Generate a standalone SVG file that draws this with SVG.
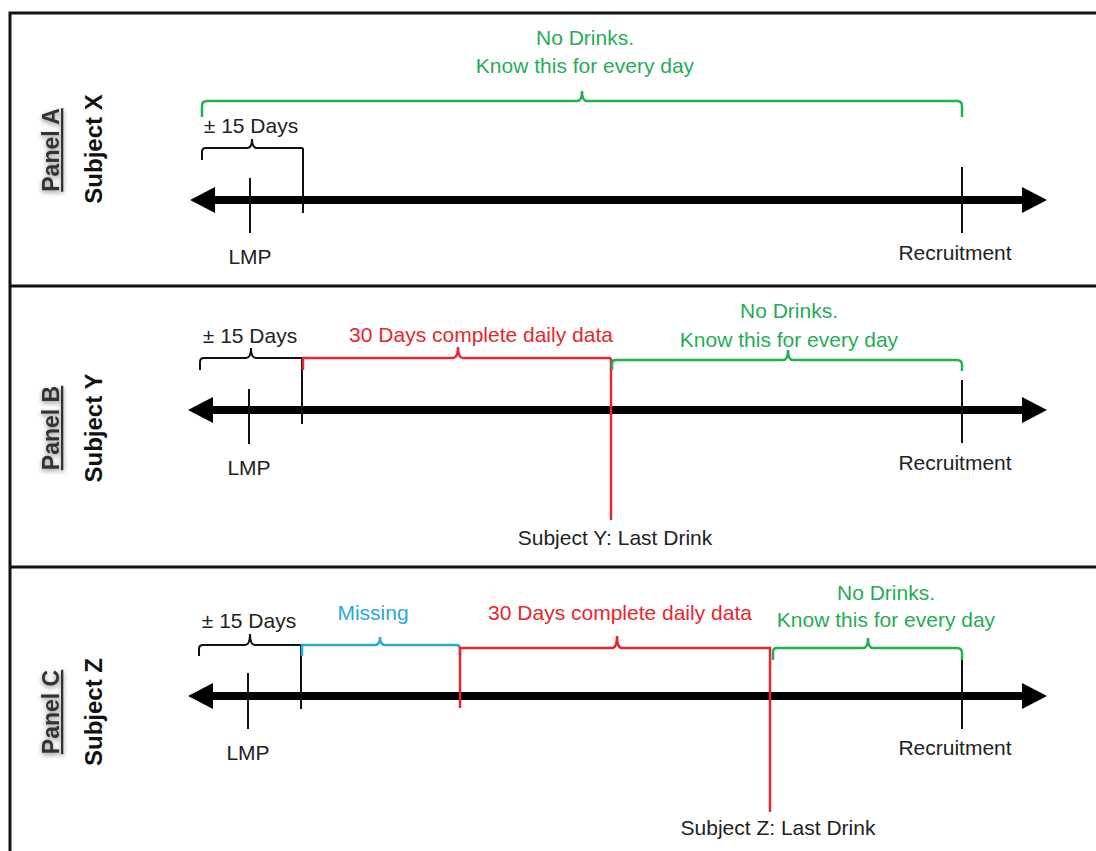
<svg xmlns="http://www.w3.org/2000/svg" width="1096" height="851" viewBox="0 0 1096 851">
<defs>
<style>
text{font-family:"Liberation Sans",Arial,sans-serif;font-size:21px;fill:#222}
.c{text-anchor:middle}
.g{fill:#1fae55}
.r{fill:#e8262d}
.b{fill:#2aa7df}
.lbl{font-size:23px;font-weight:bold;fill:#333;text-decoration:underline}
.sub{font-size:24px;font-weight:bold;fill:#111}
.frame{stroke:#111;stroke-width:3;fill:none}
.axis{stroke:#000;stroke-width:8;fill:none}
.tick{stroke:#111;stroke-width:2;fill:none}
.bk{stroke:#111;stroke-width:2;fill:none}
.gb{stroke:#22b14c;stroke-width:2.5;fill:none}
.rb{stroke:#e8262d;stroke-width:2.5;fill:none}
.bb{stroke:#2aa7df;stroke-width:2.5;fill:none}
.head{fill:#000}
</style>
<filter id="sh" x="-30%" y="-30%" width="160%" height="160%">
<feGaussianBlur in="SourceAlpha" stdDeviation="2.5"/>
<feOffset dx="-2" dy="0" result="bl"/>
<feComponentTransfer><feFuncA type="linear" slope="0.45"/></feComponentTransfer>
<feMerge><feMergeNode/><feMergeNode in="SourceGraphic"/></feMerge>
</filter>
</defs>
<rect width="1096" height="851" fill="#fff"/>
<g id="frame">
<path class="frame" d="M1096,13 H10 V851"/>
<line class="frame" x1="10" y1="286" x2="1096" y2="286"/>
<line class="frame" x1="10" y1="567" x2="1096" y2="567"/>
</g>

<g id="panelA">
<text class="lbl c" filter="url(#sh)" transform="translate(59,150) rotate(-90)">Panel A</text>
<text class="sub c" transform="translate(102,149) rotate(-90)">Subject X</text>
<g id="axisA">
<line class="axis" x1="212" y1="200" x2="1025" y2="200"/>
<polygon class="head" points="190,200 215,187 215,213"/>
<polygon class="head" points="1047,200 1022,187 1022,213"/>
</g>
<line class="tick" x1="250" y1="178" x2="250" y2="233"/>
<line class="tick" x1="303" y1="148" x2="303" y2="213"/>
<line class="tick" x1="962" y1="167" x2="962" y2="233"/>
<path class="bk" d="M202,160 V152 Q202,148 206,148 H247 Q252,148 252,139 Q252,148 257,148 H303"/>
<path class="gb" d="M202,117 V106 Q202,101 207,101 H577 Q582,101 582,91 Q582,101 587,101 H957 Q962,101 962,106 V117"/>
<text class="c" x="251" y="133">± 15 Days</text>
<text class="c g" x="585" y="45">No Drinks.</text>
<text class="c g" x="585" y="73">Know this for every day</text>
<text class="c" x="250" y="264">LMP</text>
<text class="c" x="955" y="260">Recruitment</text>
</g>

<g id="panelB">
<text class="lbl c" filter="url(#sh)" transform="translate(59,428) rotate(-90)">Panel B</text>
<text class="sub c" transform="translate(102,428) rotate(-90)">Subject Y</text>
<g id="axisB">
<line class="axis" x1="212" y1="410" x2="1025" y2="410"/>
<polygon class="head" points="188,410 213,397 213,423"/>
<polygon class="head" points="1047,410 1022,397 1022,423"/>
</g>
<line class="tick" x1="249" y1="389" x2="249" y2="444"/>
<line class="tick" x1="302" y1="358" x2="302" y2="424"/>
<line class="tick" x1="962" y1="380" x2="962" y2="443"/>
<path class="bk" d="M200,370 V362 Q200,358 204,358 H246 Q251,358 251,348 Q251,358 256,358 H302"/>
<path class="rb" d="M303,370 V358 H453 Q458,358 458,347 Q458,358 463,358 H611"/>
<line class="rb" x1="611" y1="358" x2="611" y2="520"/>
<path class="gb" d="M612,370 V364 Q612,360 616,360 H783 Q788,360 788,350 Q788,360 793,360 H957 Q962,360 962,365 V371"/>
<text class="c" x="250" y="343">± 15 Days</text>
<text class="c r" x="481" y="342">30 Days complete daily data</text>
<text class="c g" x="789" y="318">No Drinks.</text>
<text class="c g" x="789" y="347">Know this for every day</text>
<text class="c" x="249" y="475">LMP</text>
<text class="c" x="955" y="470">Recruitment</text>
<text class="c" x="615" y="545">Subject Y: Last Drink</text>
</g>

<g id="panelC">
<text class="lbl c" filter="url(#sh)" transform="translate(59,712) rotate(-90)">Panel C</text>
<text class="sub c" transform="translate(102,712) rotate(-90)">Subject Z</text>
<g id="axisC">
<line class="axis" x1="212" y1="696" x2="1025" y2="696"/>
<polygon class="head" points="188,696 213,683 213,709"/>
<polygon class="head" points="1047,696 1022,683 1022,709"/>
</g>
<line class="tick" x1="248" y1="673" x2="248" y2="729"/>
<line class="tick" x1="301" y1="645" x2="301" y2="709"/>
<line class="tick" x1="962" y1="660" x2="962" y2="729"/>
<path class="bk" d="M199,656 V649 Q199,645 203,645 H245 Q250,645 250,634 Q250,645 255,645 H301"/>
<path class="bb" d="M302,656 V645 H375 Q380,645 380,637 Q380,645 385,645 H456 Q460,645 460,649 V656"/>
<path class="rb" d="M460,708 V648 H612 Q617,648 617,636 Q617,648 622,648 H770 V812"/>
<path class="gb" d="M773,660 V652 Q773,648 777,648 H863 Q868,648 868,638 Q868,648 873,648 H957 Q962,648 962,653 V660"/>
<text class="c" x="249" y="628">± 15 Days</text>
<text class="c b" x="373" y="620">Missing</text>
<text class="c r" x="620" y="620">30 Days complete daily data</text>
<text class="c g" x="886" y="600">No Drinks.</text>
<text class="c g" x="886" y="627">Know this for every day</text>
<text class="c" x="248" y="760">LMP</text>
<text class="c" x="955" y="755">Recruitment</text>
<text class="c" x="778" y="835">Subject Z: Last Drink</text>
</g>
</svg>
